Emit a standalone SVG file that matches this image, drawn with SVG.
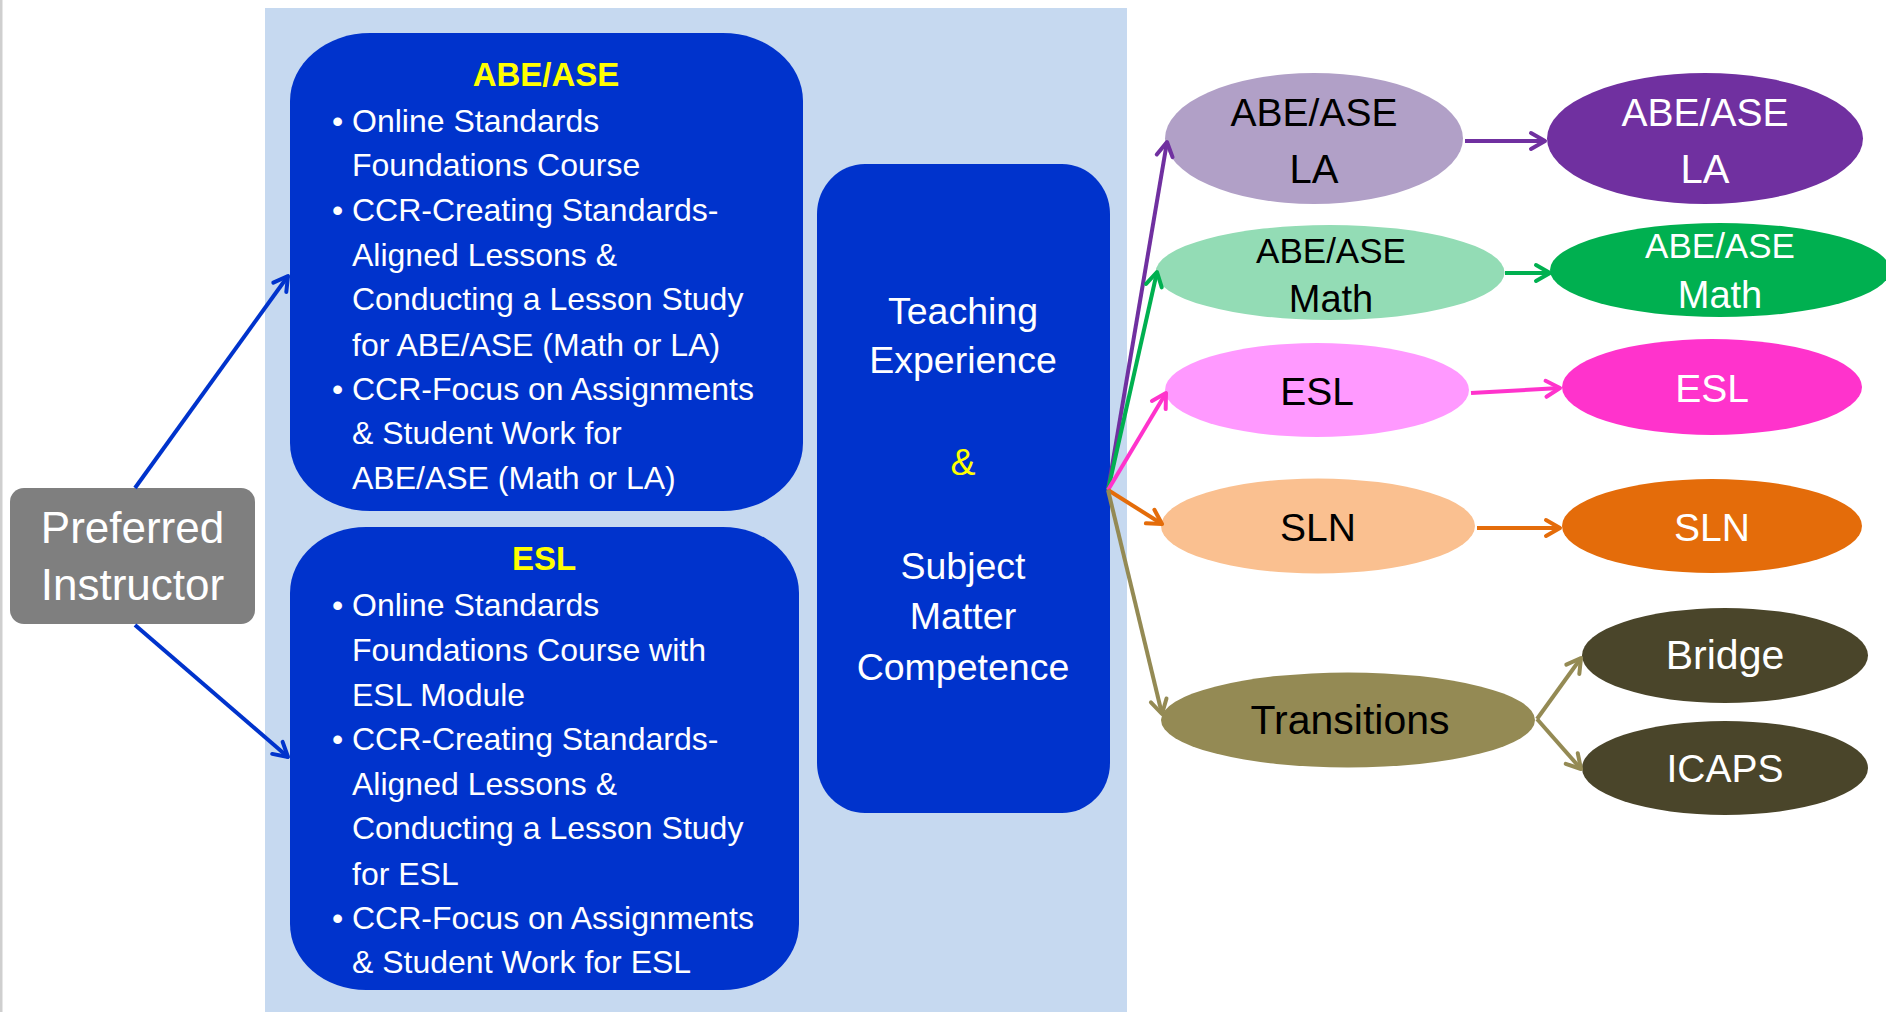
<svg xmlns="http://www.w3.org/2000/svg" width="1886" height="1012" viewBox="0 0 1886 1012">
<style>
.body{font-family:"Liberation Sans",Arial,sans-serif;font-size:32px;fill:#ffffff}
.title{font-family:"Liberation Sans",Arial,sans-serif;font-size:33px;font-weight:bold;fill:#ffff00;text-anchor:middle}
.mid{font-family:"Liberation Sans",Arial,sans-serif;font-size:37.5px;fill:#ffffff;text-anchor:middle}
.lbl{font-family:"Liberation Sans",Arial,sans-serif;text-anchor:middle}
.dk{fill:#000000}
.wt{fill:#ffffff}
.conn{fill:none;stroke-width:4}
</style>
<defs>
<marker id="mBlue" viewBox="0 0 22 22" markerWidth="22" markerHeight="22" refX="19" refY="11" orient="auto" markerUnits="userSpaceOnUse"><path d="M5,3 L19,11 L5,19" fill="none" stroke="#0033cc" stroke-width="4" stroke-linejoin="round" stroke-linecap="round"/></marker>
<marker id="mPurple" viewBox="0 0 22 22" markerWidth="22" markerHeight="22" refX="19" refY="11" orient="auto" markerUnits="userSpaceOnUse"><path d="M5,3 L19,11 L5,19" fill="none" stroke="#7030a0" stroke-width="4" stroke-linejoin="round" stroke-linecap="round"/></marker>
<marker id="mGreen" viewBox="0 0 22 22" markerWidth="22" markerHeight="22" refX="19" refY="11" orient="auto" markerUnits="userSpaceOnUse"><path d="M5,3 L19,11 L5,19" fill="none" stroke="#00b050" stroke-width="4" stroke-linejoin="round" stroke-linecap="round"/></marker>
<marker id="mPink" viewBox="0 0 22 22" markerWidth="22" markerHeight="22" refX="19" refY="11" orient="auto" markerUnits="userSpaceOnUse"><path d="M5,3 L19,11 L5,19" fill="none" stroke="#ff33cc" stroke-width="4" stroke-linejoin="round" stroke-linecap="round"/></marker>
<marker id="mOrange" viewBox="0 0 22 22" markerWidth="22" markerHeight="22" refX="19" refY="11" orient="auto" markerUnits="userSpaceOnUse"><path d="M5,3 L19,11 L5,19" fill="none" stroke="#e46c0a" stroke-width="4" stroke-linejoin="round" stroke-linecap="round"/></marker>
<marker id="mOlive" viewBox="0 0 22 22" markerWidth="22" markerHeight="22" refX="19" refY="11" orient="auto" markerUnits="userSpaceOnUse"><path d="M5,3 L19,11 L5,19" fill="none" stroke="#948a54" stroke-width="4" stroke-linejoin="round" stroke-linecap="round"/></marker>
</defs>
<rect x="0" y="0" width="1886" height="1012" fill="#ffffff"/>
<rect x="0" y="0" width="2.5" height="1012" fill="#cfcfcf"/>
<rect id="panel" x="265" y="8" width="862" height="1004" fill="#c6d9f0"/>

<g id="preferred-instructor">
<rect x="10" y="488" width="245" height="136" rx="14" fill="#7f7f7f"/>
<text class="lbl wt" x="132.5" y="543" font-size="44">Preferred</text>
<text class="lbl wt" x="132.5" y="600" font-size="44">Instructor</text>
</g>

<g id="abe-ase-box">
<rect x="290" y="33" width="513" height="478" rx="80" ry="68" fill="#0033cc"/>
<text class="title" x="546" y="86">ABE/ASE</text>
<text class="body" x="332" y="132">•</text><text class="body" x="352" y="132">Online Standards</text>
<text class="body" x="352" y="176">Foundations Course</text>
<text class="body" x="332" y="221">•</text><text class="body" x="352" y="221">CCR-Creating Standards-</text>
<text class="body" x="352" y="266">Aligned Lessons &amp;</text>
<text class="body" x="352" y="310">Conducting a Lesson Study</text>
<text class="body" x="352" y="356">for ABE/ASE (Math or LA)</text>
<text class="body" x="332" y="400">•</text><text class="body" x="352" y="400">CCR-Focus on Assignments</text>
<text class="body" x="352" y="444">&amp; Student Work for</text>
<text class="body" x="352" y="489">ABE/ASE (Math or LA)</text>
</g>

<g id="esl-box">
<rect x="290" y="527" width="509" height="463" rx="76" ry="66" fill="#0033cc"/>
<text class="title" x="544" y="570">ESL</text>
<text class="body" x="332" y="616">•</text><text class="body" x="352" y="616">Online Standards</text>
<text class="body" x="352" y="661">Foundations Course with</text>
<text class="body" x="352" y="706">ESL Module</text>
<text class="body" x="332" y="750">•</text><text class="body" x="352" y="750">CCR-Creating Standards-</text>
<text class="body" x="352" y="795">Aligned Lessons &amp;</text>
<text class="body" x="352" y="839">Conducting a Lesson Study</text>
<text class="body" x="352" y="885">for ESL</text>
<text class="body" x="332" y="929">•</text><text class="body" x="352" y="929">CCR-Focus on Assignments</text>
<text class="body" x="352" y="973">&amp; Student Work for ESL</text>
</g>

<g id="teaching-box">
<rect x="817" y="164" width="293" height="649" rx="48" ry="50" fill="#0033cc"/>
<text class="mid" x="963" y="324">Teaching</text>
<text class="mid" x="963" y="373">Experience</text>
<text class="mid" x="963" y="475" style="fill:#ffff00">&amp;</text>
<text class="mid" x="963" y="579">Subject</text>
<text class="mid" x="963" y="629">Matter</text>
<text class="mid" x="963" y="680">Competence</text>
</g>

<g id="abe-la-1">
<ellipse cx="1314" cy="138.5" rx="149" ry="65.5" fill="#b1a0c7"/>
<text class="lbl dk" x="1314" y="126" font-size="39">ABE/ASE</text>
<text class="lbl dk" x="1314" y="183" font-size="40">LA</text>
</g>
<g id="abe-la-2">
<ellipse cx="1705" cy="138.5" rx="158" ry="65.5" fill="#7030a0"/>
<text class="lbl wt" x="1705" y="126" font-size="39">ABE/ASE</text>
<text class="lbl wt" x="1705" y="183" font-size="40">LA</text>
</g>
<g id="abe-math-1">
<ellipse cx="1330" cy="272.5" rx="174.5" ry="47.5" fill="#93dcb5"/>
<text class="lbl dk" x="1331" y="263" font-size="35">ABE/ASE</text>
<text class="lbl dk" x="1331" y="312" font-size="38">Math</text>
</g>
<g id="abe-math-2">
<ellipse cx="1720" cy="270" rx="170" ry="47" fill="#00b050"/>
<text class="lbl wt" x="1720" y="258" font-size="35">ABE/ASE</text>
<text class="lbl wt" x="1720" y="308" font-size="38">Math</text>
</g>
<g id="esl-1">
<ellipse cx="1317" cy="390" rx="152" ry="47" fill="#ff99ff"/>
<text class="lbl dk" x="1317" y="405" font-size="39">ESL</text>
</g>
<g id="esl-2">
<ellipse cx="1712" cy="387" rx="150" ry="48" fill="#ff33cc"/>
<text class="lbl wt" x="1712" y="402" font-size="39">ESL</text>
</g>
<g id="sln-1">
<ellipse cx="1318" cy="526" rx="157" ry="47.5" fill="#fac090"/>
<text class="lbl dk" x="1318" y="541" font-size="39">SLN</text>
</g>
<g id="sln-2">
<ellipse cx="1712" cy="526" rx="150" ry="47" fill="#e46c0a"/>
<text class="lbl wt" x="1712" y="541" font-size="39">SLN</text>
</g>
<g id="transitions">
<ellipse cx="1348" cy="720" rx="187" ry="47.5" fill="#948a54"/>
<text class="lbl dk" x="1350" y="734" font-size="41">Transitions</text>
</g>
<g id="bridge">
<ellipse cx="1725" cy="655.5" rx="143" ry="47.5" fill="#4a452a"/>
<text class="lbl wt" x="1725" y="669" font-size="41">Bridge</text>
</g>
<g id="icaps">
<ellipse cx="1725" cy="768" rx="143" ry="47" fill="#4a452a"/>
<text class="lbl wt" x="1725" y="782" font-size="39">ICAPS</text>
</g>

<g id="connectors">
<line class="conn" x1="135" y1="488" x2="288" y2="276" stroke="#0033cc" marker-end="url(#mBlue)"/>
<line class="conn" x1="135" y1="625" x2="288" y2="757" stroke="#0033cc" marker-end="url(#mBlue)"/>
<line class="conn" x1="1108" y1="490" x2="1167" y2="142" stroke="#7030a0" marker-end="url(#mPurple)"/>
<line class="conn" x1="1108" y1="490" x2="1157" y2="272" stroke="#00b050" marker-end="url(#mGreen)"/>
<line class="conn" x1="1108" y1="490" x2="1166" y2="393" stroke="#ff33cc" marker-end="url(#mPink)"/>
<line class="conn" x1="1108" y1="490" x2="1162" y2="524" stroke="#e46c0a" marker-end="url(#mOrange)"/>
<line class="conn" x1="1108" y1="490" x2="1162" y2="714" stroke="#948a54" marker-end="url(#mOlive)"/>
<line class="conn" x1="1465" y1="141" x2="1545" y2="141" stroke="#7030a0" marker-end="url(#mPurple)"/>
<line class="conn" x1="1505" y1="273" x2="1550" y2="273" stroke="#00b050" marker-end="url(#mGreen)"/>
<line class="conn" x1="1471" y1="393" x2="1560" y2="388" stroke="#ff33cc" marker-end="url(#mPink)"/>
<line class="conn" x1="1477" y1="528" x2="1560" y2="528" stroke="#e46c0a" marker-end="url(#mOrange)"/>
<line class="conn" x1="1537" y1="719" x2="1581" y2="658" stroke="#948a54" marker-end="url(#mOlive)"/>
<line class="conn" x1="1537" y1="719" x2="1581" y2="769" stroke="#948a54" marker-end="url(#mOlive)"/>
</g>
</svg>
